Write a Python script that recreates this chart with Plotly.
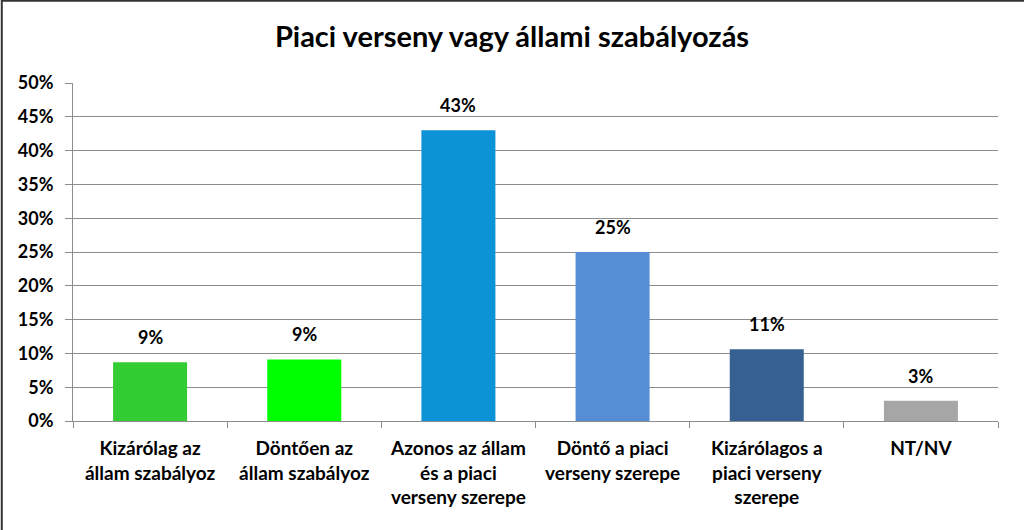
import plotly.graph_objects as go

# Survey answers: market competition or state regulation
categories = [
    "Kizárólag az<br>állam szabályoz",
    "Döntően az<br>állam szabályoz",
    "Azonos az állam<br>és a piaci<br>verseny szerepe",
    "Döntő a piaci<br>verseny szerepe",
    "Kizárólagos a<br>piaci verseny<br>szerepe",
    "NT/NV",
]
shares = [0.087, 0.091, 0.43, 0.25, 0.106, 0.03]
labels = ["9%", "9%", "43%", "25%", "11%", "3%"]
bar_colors = ["#33CC33", "#00FF00", "#0C92D6", "#558ED5", "#376092", "#A6A6A6"]
y_ticks = [0, 0.05, 0.1, 0.15, 0.2, 0.25, 0.3, 0.35, 0.4, 0.45, 0.5]

FONT = "Lato"
BOLD = dict(family=FONT, size=18, color="#000000", weight="bold")

fig = go.Figure(
    go.Bar(
        x=categories,
        y=shares,
        marker=dict(color=bar_colors, line=dict(width=0)),
        showlegend=False,
        hoverinfo="x+y",
    )
)

# value labels sit a little higher above the bars than plotly's own outside text
for cat, val, lab in zip(categories, shares, labels):
    fig.add_annotation(
        x=cat, y=val, text=lab, showarrow=False,
        yanchor="bottom", yshift=12, font=BOLD,
    )

fig.update_layout(
    width=1024,
    height=530,
    paper_bgcolor="white",
    plot_bgcolor="white",
    margin=dict(l=73, r=26, t=83, b=109),
    bargap=0.52,
    title=dict(
        text="Piaci verseny vagy állami szabályozás",
        x=0.5,
        xanchor="center",
        y=0.93,
        yanchor="middle",
        font=dict(family=FONT, size=29, color="#000000", weight="bold"),
    ),
)

fig.update_yaxes(
    range=[0, 0.5],
    tickvals=y_ticks,
    tickformat=".0%",
    showgrid=True,
    gridcolor="#8C8C8C",
    gridwidth=1,
    showline=True,
    linecolor="#8C8C8C",
    ticks="outside",
    ticklen=7,
    tickcolor="#8C8C8C",
    ticklabelstandoff=8,
    zeroline=False,
    tickfont=BOLD,
)

fig.update_xaxes(
    showline=True,
    linecolor="#8C8C8C",
    ticks="outside",
    tickson="boundaries",
    ticklen=6,
    tickcolor="#8C8C8C",
    tickangle=0,
    ticklabelstandoff=10,
    tickfont=dict(family=FONT, size=19, color="#000000", weight="bold"),
)

# thin frame along the top and left edge of the picture
fig.add_shape(
    type="rect", xref="paper", yref="paper",
    x0=-0.077, x1=1.05, y0=-0.35, y1=1.243,
    line=dict(color="#333333", width=2),
)

fig.write_html(
    "out.html",
    config={"displayModeBar": False},
    post_script="document.body.style.margin='0';",
)
